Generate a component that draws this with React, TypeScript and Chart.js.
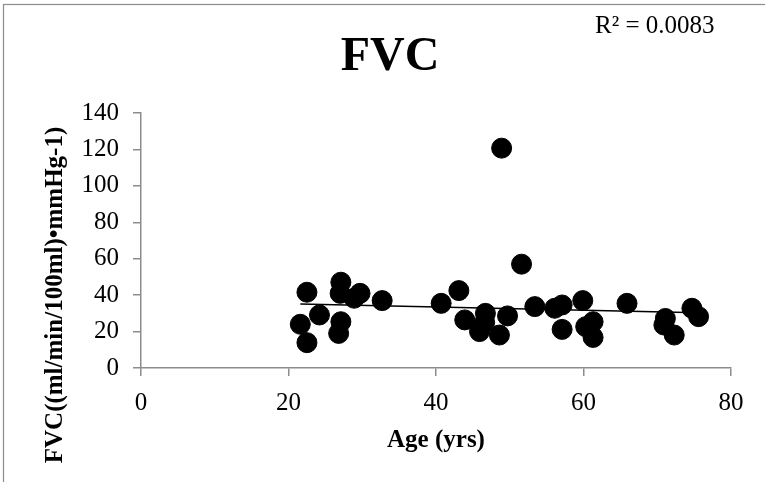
import React, { useEffect, useRef } from "react";
import { Chart, registerables } from "chart.js";

Chart.register(...registerables);

// Age (yrs)
const ages: number[] = [
  21.6, 22.5, 22.5, 24.2, 27.1, 27.0, 27.1, 26.8, 28.9, 29.7, 32.7, 40.7,
  43.1, 43.9, 45.9, 46.7, 46.6, 48.6, 48.9, 49.7, 51.6, 53.4, 56.1, 57.1,
  57.1, 59.9, 60.3, 61.3, 61.3, 65.9, 71.1, 70.9, 72.3, 74.7, 75.6,
];
// FVC((ml/min/100ml)•mmHg-1)
const fvc: number[] = [
  24, 41.6, 13.9, 29.1, 47.1, 41, 25.4, 19, 38.3, 41, 37, 35.5,
  42.5, 26.4, 20, 30, 25, 18.1, 120.7, 28.6, 57, 33.7, 32.8, 34.6,
  21.2, 37, 22.7, 25.4, 16.8, 35.5, 27.2, 23.6, 18.1, 32.8, 28.2,
];

const chartTitle = "FVC";
const xTitle = "Age (yrs)";
const yTitle = "FVC((ml/min/100ml)•mmHg-1)";
const rSquaredLabel = "R² = 0.0083";
const xRange = [0, 80];
const yRange = [0, 140];
const xStep = 20;
const yStep = 20;

function linearFit(xs: number[], ys: number[]) {
  const n = xs.length;
  const mx = xs.reduce((a, b) => a + b, 0) / n;
  const my = ys.reduce((a, b) => a + b, 0) / n;
  let sxy = 0;
  let sxx = 0;
  for (let i = 0; i < n; i++) {
    sxy += (xs[i] - mx) * (ys[i] - my);
    sxx += (xs[i] - mx) * (xs[i] - mx);
  }
  const slope = sxy / sxx;
  return { slope, intercept: my - slope * mx };
}

const SERIF = "'Liberation Serif', 'Times New Roman', serif";
const AXIS_GRAY = "#8c8c8c";

export default function App() {
  const canvasRef = useRef<HTMLCanvasElement | null>(null);

  useEffect(() => {
    const canvas = canvasRef.current;
    if (!canvas) return;

    const points = ages.map((x, i) => ({ x, y: fvc[i] }));
    const fit = linearFit(ages, fvc);
    const xMin = Math.min(...ages);
    const xMax = Math.max(...ages);
    const trend = [
      { x: xMin, y: fit.intercept + fit.slope * xMin },
      { x: xMax, y: fit.intercept + fit.slope * xMax },
    ];

    const textPlugin = {
      id: "excelText",
      beforeDraw(chart: any) {
        const ctx = chart.ctx;
        ctx.save();
        ctx.fillStyle = "#ffffff";
        ctx.fillRect(0, 0, chart.width, chart.height);
        ctx.strokeStyle = AXIS_GRAY;
        ctx.lineWidth = 1.2;
        ctx.strokeRect(3.5, 4.5, chart.width + 20, chart.height + 20);
        ctx.restore();
      },
      afterDraw(chart: any) {
        const ctx = chart.ctx;
        const area = chart.chartArea;
        ctx.save();
        ctx.fillStyle = "#000000";
        // main title
        ctx.font = `bold 48px ${SERIF}`;
        ctx.textAlign = "center";
        ctx.textBaseline = "alphabetic";
        ctx.fillText(chartTitle, 390, 70);
        // R squared
        ctx.font = `25px ${SERIF}`;
        ctx.textAlign = "left";
        ctx.fillText(rSquaredLabel, 595, 33);
        // x title
        ctx.font = `bold 25px ${SERIF}`;
        ctx.textAlign = "center";
        ctx.fillText(xTitle, (area.left + area.right) / 2, 447);
        // y title
        ctx.translate(56, 295);
        ctx.rotate(-Math.PI / 2);
        ctx.textBaseline = "middle";
        ctx.fillText(yTitle, 0, 0);
        ctx.restore();
      },
    };

    const chart = new Chart(canvas, {
      type: "scatter",
      data: {
        datasets: [
          {
            label: "FVC",
            data: points,
            backgroundColor: "#000000",
            borderColor: "#000000",
            pointRadius: 10,
            pointHoverRadius: 10,
            order: 2,
          },
          {
            type: "line",
            label: "Linear (FVC)",
            data: trend,
            borderColor: "#000000",
            borderWidth: 1.5,
            pointRadius: 0,
            fill: false,
            order: 1,
          } as any,
        ],
      },
      options: {
        animation: false,
        responsive: false,
        maintainAspectRatio: false,
        layout: { padding: { top: 113, right: 34, left: 0, bottom: 0 } },
        plugins: {
          legend: { display: false },
          title: { display: false },
          tooltip: { enabled: false },
        },
        scales: {
          x: {
            type: "linear",
            min: xRange[0],
            max: xRange[1],
            afterFit: (scale: any) => {
              scale.height = 114;
            },
            ticks: {
              stepSize: xStep,
              color: "#000000",
              font: { family: SERIF, size: 25 },
              padding: 12,
            },
            grid: {
              display: true,
              drawOnChartArea: false,
              drawTicks: true,
              tickLength: 8,
              color: AXIS_GRAY,
              lineWidth: 1.5,
            },
            border: { color: AXIS_GRAY, width: 1.5 },
          },
          y: {
            type: "linear",
            min: yRange[0],
            max: yRange[1],
            afterFit: (scale: any) => {
              scale.width = 141;
            },
            ticks: {
              stepSize: yStep,
              color: "#000000",
              font: { family: SERIF, size: 25 },
              padding: 14,
            },
            grid: {
              display: true,
              drawOnChartArea: false,
              drawTicks: true,
              tickLength: 8,
              color: AXIS_GRAY,
              lineWidth: 1.5,
            },
            border: { color: AXIS_GRAY, width: 1.5 },
          },
        },
      },
      plugins: [textPlugin],
    });

    return () => chart.destroy();
  }, []);

  return (
    <div style={{ position: "absolute", left: 0, top: 0, width: 765, height: 482, background: "#fff" }}>
      <canvas ref={canvasRef} width={765} height={482} style={{ display: "block", width: 765, height: 482 }} />
    </div>
  );
}
